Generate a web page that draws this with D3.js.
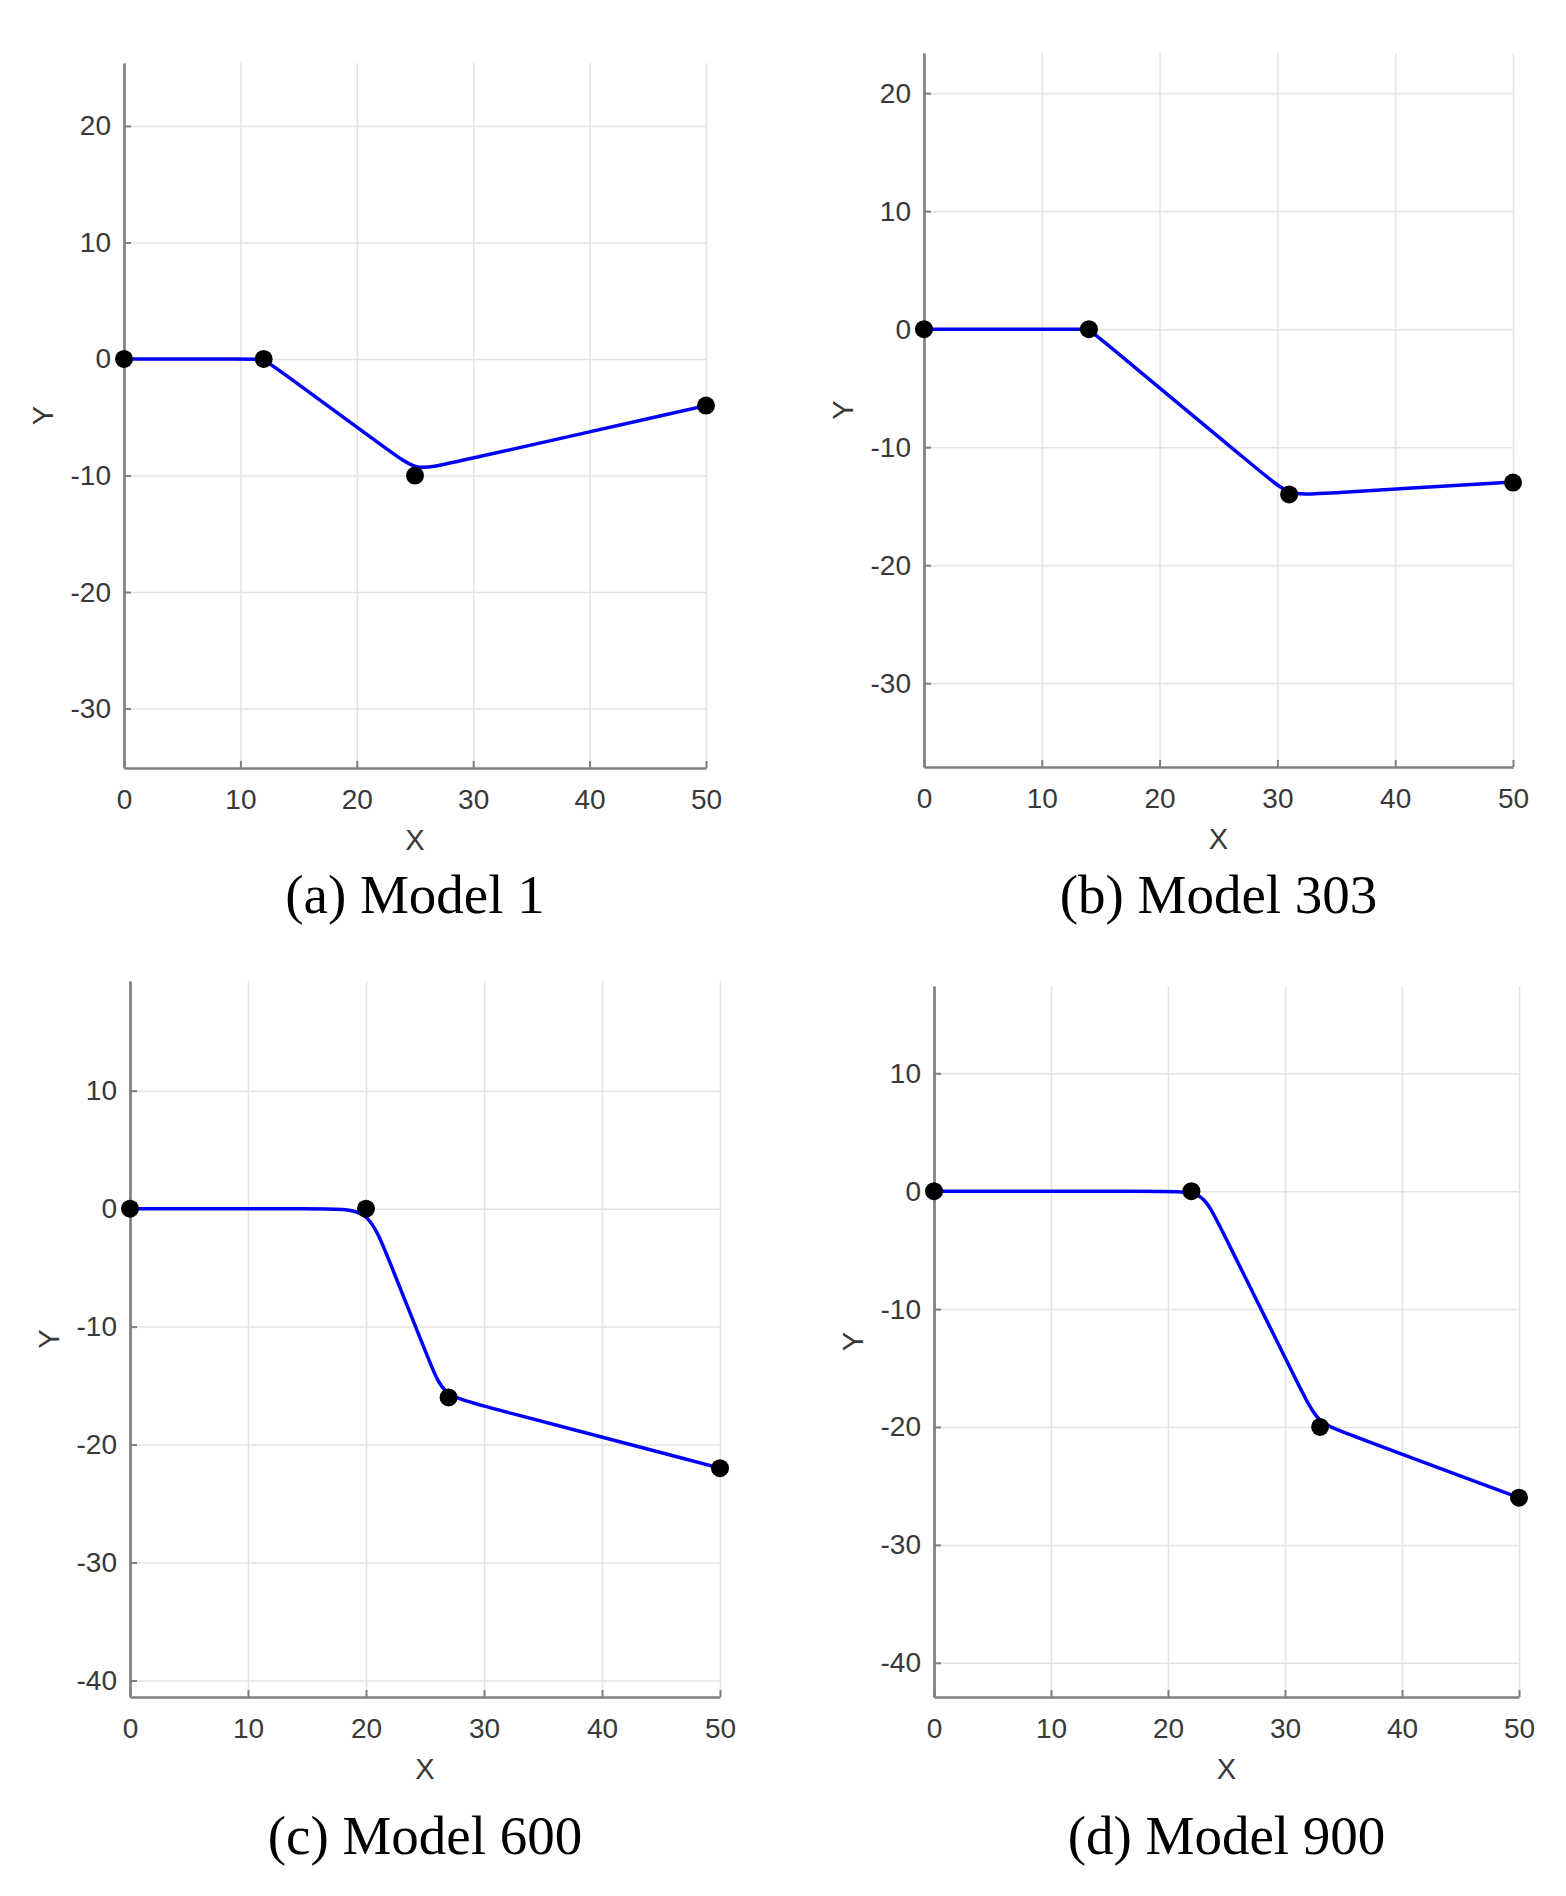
<!DOCTYPE html>
<html>
<head>
<meta charset="utf-8">
<script src="https://cdnjs.cloudflare.com/ajax/libs/d3/7.8.5/d3.min.js"></script>
<style>
  body { margin: 0; background: #fff; }
  svg { display: block; }
</style>
</head>
<body>
<svg width="1566" height="1896"></svg>
<script>
// tick labels
var xTicks = [0, 10, 20, 30, 40, 50];
var yTicksAB = [20, 10, 0, -10, -20, -30];
var yTicksCD = [10, 0, -10, -20, -30, -40];

// captions
var captions = ["(a) Model 1", "(b) Model 303", "(c) Model 600", "(d) Model 900"];

// waypoints (black dots)
var model1X = [0, 12, 25, 50],  model1Y = [0, 0, -10, -4];
var model303X = [0, 14, 31, 50], model303Y = [0, 0, -14, -13];
var model600X = [0, 20, 27, 50], model600Y = [0, 0, -16, -22];
var model900X = [0, 22, 33, 50], model900Y = [0, 0, -20, -26];

// traced path (blue line): straight runs with a point either side of each bend
var path1X = [0, 11, 12, 13, 22.94, 25.14, 27.34, 50];
var path1Y = [0, 0, 0, -0.73, -7.99, -9.59, -9.1, -4];
var path303X = [0, 13, 14, 15, 28.8, 31, 33.2, 50];
var path303Y = [0, 0, 0, -0.83, -12.27, -14.1, -13.97, -12.95];
var path600X = [0, 17, 20.2, 21.8, 25.5, 26.53, 29.5, 50];
var path600Y = [0, 0, 0, -4, -13.25, -15.83, -16.61, -22];
var path900X = [0, 19.5, 22.95, 24.1, 31.5, 32.76, 35, 50];
var path900Y = [0, 0, 0, -2.3, -17.1, -19.62, -20.45, -26];

// panel layout
var panels = [
  {left: 124, right: 706, top: 63, bottom: 768, ymin: -35.1, ymax: 25.4, yTicks: yTicksAB,
   wx: model1X, wy: model1Y, px: path1X, py: path1Y, cap: captions[0], capY: 913},
  {left: 924, right: 1513, top: 53, bottom: 767, ymin: -37.1, ymax: 23.4, yTicks: yTicksAB,
   wx: model303X, wy: model303Y, px: path303X, py: path303Y, cap: captions[1], capY: 913},
  {left: 130, right: 720, top: 981, bottom: 1697, ymin: -41.4, ymax: 19.3, yTicks: yTicksCD,
   wx: model600X, wy: model600Y, px: path600X, py: path600Y, cap: captions[2], capY: 1854},
  {left: 934, right: 1519, top: 986, bottom: 1697, ymin: -42.9, ymax: 17.4, yTicks: yTicksCD,
   wx: model900X, wy: model900Y, px: path900X, py: path900Y, cap: captions[3], capY: 1854}
];

var svg = d3.select("svg");
svg.append("rect").attr("width", 1566).attr("height", 1896).attr("fill", "#fff");

var plain = function (d) { return String(d); };

panels.forEach(function (p) {
  var x = d3.scaleLinear().domain([0, 50]).range([p.left, p.right]);
  var y = d3.scaleLinear().domain([p.ymin, p.ymax]).range([p.bottom, p.top]);
  var w = p.right - p.left, h = p.bottom - p.top;
  var g = svg.append("g");

  // grid
  g.append("g")
    .attr("transform", "translate(0," + p.bottom + ")")
    .call(d3.axisBottom(x).tickValues(xTicks).tickSize(-h).tickFormat(""))
    .call(function (s) { s.select(".domain").remove(); })
    .selectAll("line").attr("stroke", "#e3e3e3").attr("stroke-width", 1.5);
  g.append("g")
    .attr("transform", "translate(" + p.left + ",0)")
    .call(d3.axisLeft(y).tickValues(p.yTicks).tickSize(-w).tickFormat(""))
    .call(function (s) { s.select(".domain").remove(); })
    .selectAll("line").attr("stroke", "#e3e3e3").attr("stroke-width", 1.5);

  // axes
  var xa = g.append("g")
    .attr("transform", "translate(0," + p.bottom + ")")
    .call(d3.axisBottom(x).tickValues(xTicks).tickFormat(plain)
      .tickSizeInner(-7).tickSizeOuter(0).tickPadding(21));
  var ya = g.append("g")
    .attr("transform", "translate(" + p.left + ",0)")
    .call(d3.axisLeft(y).tickValues(p.yTicks).tickFormat(plain)
      .tickSizeInner(-7).tickSizeOuter(0).tickPadding(13));
  [xa, ya].forEach(function (a) {
    a.select(".domain").attr("stroke", "#7f7f7f").attr("stroke-width", 2.7);
    a.selectAll(".tick line").attr("stroke", "#7f7f7f").attr("stroke-width", 2);
    a.selectAll("text").attr("fill", "#383838")
      .style("font-family", "'Liberation Sans', Arial, sans-serif").style("font-size", "28px");
  });

  // axis labels
  g.append("text")
    .attr("x", (p.left + p.right) / 2).attr("y", p.bottom + 82)
    .attr("text-anchor", "middle").attr("fill", "#383838")
    .style("font-family", "'Liberation Sans', Arial, sans-serif").style("font-size", "29px")
    .text("X");
  g.append("text")
    .attr("transform", "translate(" + (p.left - 71) + "," + ((p.top + p.bottom) / 2) + ") rotate(-90)")
    .attr("text-anchor", "middle").attr("fill", "#383838")
    .style("font-family", "'Liberation Sans', Arial, sans-serif").style("font-size", "29px")
    .text("Y");

  // blue path
  var pts = p.px.map(function (v, i) { return [v, p.py[i]]; });
  g.append("path")
    .datum(pts)
    .attr("fill", "none")
    .attr("stroke", "#0000ff")
    .attr("stroke-width", 3.5)
    .attr("d", d3.line().x(function (d) { return x(d[0]); }).y(function (d) { return y(d[1]); })
      .curve(d3.curveBasis));

  // waypoints
  g.selectAll("circle.wp")
    .data(p.wx.map(function (v, i) { return [v, p.wy[i]]; }))
    .enter().append("circle")
    .attr("class", "wp")
    .attr("cx", function (d) { return x(d[0]); })
    .attr("cy", function (d) { return y(d[1]); })
    .attr("r", 9)
    .attr("fill", "#000");

  // caption
  g.append("text")
    .attr("x", (p.left + p.right) / 2).attr("y", p.capY)
    .attr("text-anchor", "middle").attr("fill", "#000")
    .style("font-family", "'Liberation Serif', 'Times New Roman', serif").style("font-size", "55px")
    .text(p.cap);
});
</script>
</body>
</html>
